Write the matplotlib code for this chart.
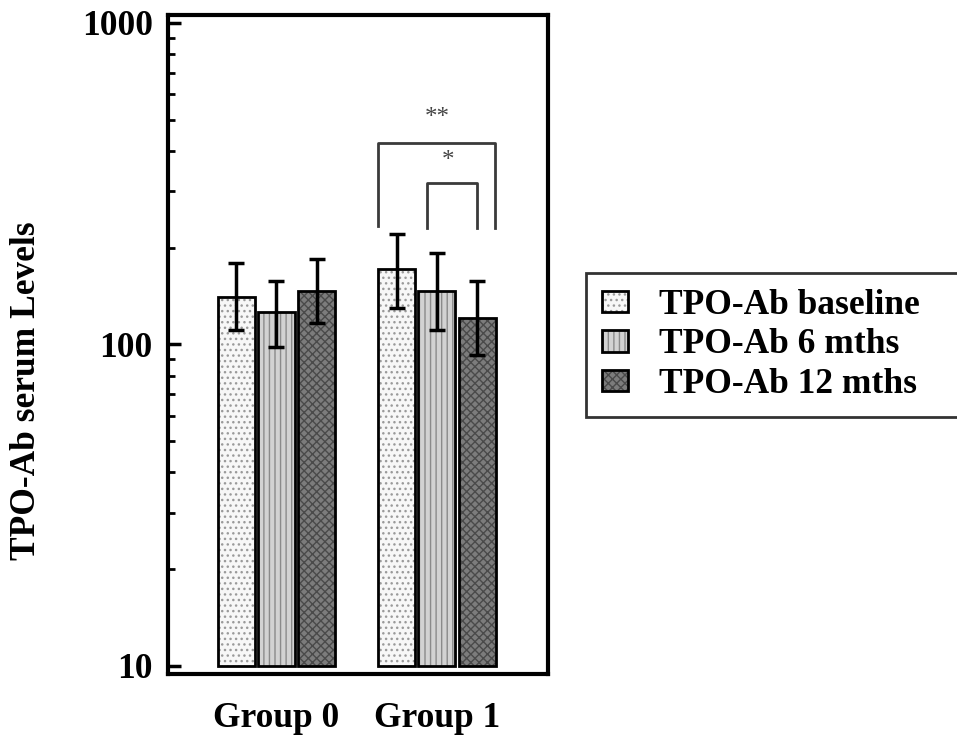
import matplotlib
matplotlib.use("Agg")
from matplotlib import pyplot as plt
from matplotlib.patches import Patch
from matplotlib.legend_handler import HandlerTuple
from matplotlib.ticker import LogLocator, NullFormatter
import numpy as np

plt.rcParams['font.family'] = ['Liberation Serif', 'DejaVu Serif']
plt.rcParams['font.weight'] = 'bold'
plt.rcParams['hatch.linewidth'] = 1.0

groups = ["Group 0", "Group 1"]
series = ["TPO-Ab baseline", "TPO-Ab 6 mths", "TPO-Ab 12 mths"]

# mean TPO-Ab level per series, one value per group
means = [[141, 172], [126, 147], [147, 121]]
err_low = [[111, 130], [98, 111], [117, 93]]
err_high = [[179, 220], [158, 192], [185, 158]]

face = ["#f7f7f7", "#d2d2d2", "#7c7c7c"]
hatch_col = ["#9a9a9a", "#8a8a8a", "#4a4a4a"]
hatches = ["...", "|||", "xxxx"]

base = 10
width = 0.23
offsets = [-0.25, 0, 0.25]
fs = 25.5

fig = plt.figure(figsize=(9.57, 7.38), dpi=100)
ax = fig.add_axes([0.1755, 0.0867, 0.3971, 0.893])

x = np.arange(len(groups))
handles = []
for i in range(3):
    m = np.array(means[i])
    xs = x + offsets[i]
    # hatched fill first, black outline on top
    ax.bar(xs, m - base, width, bottom=base, color=face[i], hatch=hatches[i],
           edgecolor=hatch_col[i], linewidth=0, zorder=2)
    ax.bar(xs, m - base, width, bottom=base, fill=False, edgecolor="black",
           linewidth=2, zorder=3)
    yerr = [m - np.array(err_low[i]), np.array(err_high[i]) - m]
    ax.errorbar(xs, m, yerr=yerr, fmt="none", ecolor="black", elinewidth=2.5,
                capsize=6, capthick=2.5, zorder=4)
    handles.append((Patch(facecolor=face[i], hatch=hatches[i], edgecolor=hatch_col[i], linewidth=0),
                    Patch(fill=False, edgecolor="black", linewidth=2)))

# significance brackets over group 1
br_col = "#3a3a3a"
ax.plot([0.632, 0.632, 1.361, 1.361], [234, 424, 424, 231], color=br_col, lw=2, zorder=5)
ax.plot([0.938, 0.938, 1.249, 1.249], [231, 318, 318, 231], color=br_col, lw=2, zorder=5)
ax.text(1.0, 505, "**", ha="center", va="center", fontsize=18, color="#444444", fontweight="normal")
ax.text(1.07, 372, "*", ha="center", va="center", fontsize=18, color="#444444", fontweight="normal")

ax.set_yscale("log")
ax.set_ylim(9.44, 1059)
ax.set_xlim(-0.676, 1.692)

ax.yaxis.set_minor_locator(LogLocator(base=10, subs=np.arange(2, 10), numticks=10))
ax.yaxis.set_minor_formatter(NullFormatter())
ax.set_yticks([10, 100, 1000])
ax.set_yticklabels(["10", "100", "1000"])
ax.tick_params(axis="y", which="major", direction="in", length=9, width=2.5, pad=11, labelsize=fs)
ax.tick_params(axis="y", which="minor", direction="in", length=5, width=2)
ax.set_xticks(x)
ax.set_xticklabels(groups)
ax.tick_params(axis="x", length=0, pad=20, labelsize=fs)

for s in ax.spines.values():
    s.set_linewidth(3)

fig.text(0.028, 0.47, "TPO-Ab serum Levels", rotation=90, ha="center", va="center", fontsize=fs)

leg = fig.legend(handles, series, handler_map={tuple: HandlerTuple(ndivide=1, pad=0)},
                 loc="upper left", bbox_to_anchor=(0.6123, 0.0, 0.45, 0.630), mode="expand",
                 borderaxespad=0, fontsize=fs, frameon=True, fancybox=False,
                 handlelength=0.75, handleheight=0.55, handletextpad=0.85, labelspacing=0.18,
                 borderpad=0.45)
leg.get_frame().set_edgecolor("black")
leg.get_frame().set_linewidth(2)

fig.savefig("out.png", dpi=100)
